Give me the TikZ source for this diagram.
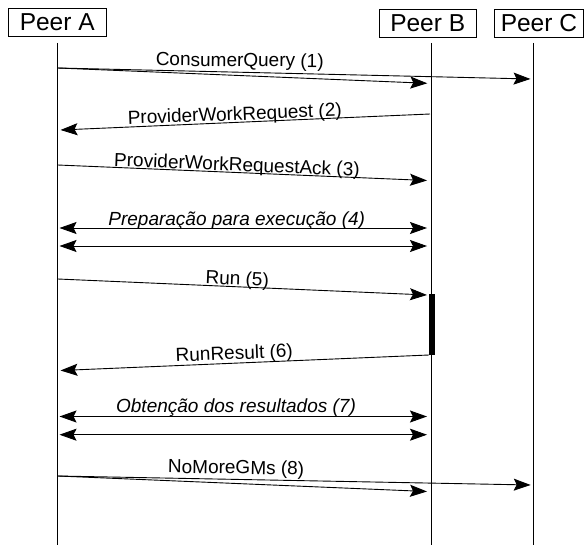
\documentclass[tikz,border=0pt]{standalone}
\usepackage{fontspec}
\setmainfont{Liberation Sans}
\usetikzlibrary{arrows.meta}
\begin{document}
\begin{tikzpicture}[x=1pt,y=-1pt,
  peer/.style={draw, line width=1pt, font=\fontsize{24.5}{28}\selectfont,
    minimum height=28pt, inner sep=0pt},
  life/.style={line width=1.1pt},
  tip/.tip={Stealth[length=17pt,width=12pt,inset=3pt]},
  msg/.style={line width=0.9pt, -tip},
  both/.style={line width=0.9pt, tip-tip},
  lbl/.style={font=\fontsize{19}{22}\selectfont, anchor=base, inner sep=0pt},
  ilbl/.style={lbl, font=\fontsize{19}{22}\selectfont\itshape},
  actbar/.style={fill=black, inner sep=0pt, minimum width=6pt}]
\useasboundingbox (0,0) rectangle (585,545);

% participants
\node[peer, minimum width=97.7pt] (pa) at (57.2,22.2) {Peer A};
\node[peer, minimum width=96.7pt] (pb) at (427.7,23.3) {Peer B};
\node[peer, minimum width=89pt]   (pc) at (538.9,23.3) {Peer C};

% lifelines
\coordinate (la0) at (57.7,43);  \coordinate (la1) at (57.7,545);
\coordinate (lb0) at (431.5,43); \coordinate (lb1) at (431.5,545);
\coordinate (lc0) at (533.5,43); \coordinate (lc1) at (533.5,545);
\draw[life] (la0) -- (la1);
\draw[life] (lb0) -- (lb1);
\draw[life] (lc0) -- (lc1);

% execution on Peer B
\node[actbar, minimum height=61pt] (exec) at (432.3,324.6) {};

% (1) ConsumerQuery
\coordinate (m1a) at (57.7,68);
\coordinate (m1b) at (427.3,83.3);
\coordinate (m1c) at (530.5,79);
\draw[msg] (m1a) -- (m1b);
\draw[msg] (m1a) -- (m1c);
\node[lbl, rotate=-0.5] (t1) at (239.7,66.5) {ConsumerQuery (1)};

% (2) ProviderWorkRequest
\coordinate (m2b) at (430,114);
\coordinate (m2a) at (60.5,130);
\draw[msg] (m2b) -- (m2a);
\node[lbl, rotate=2.2] (t2) at (235,120.3) {ProviderWorkRequest (2)};

% (3) ProviderWorkRequestAck
\coordinate (m3a) at (57.7,165);
\coordinate (m3b) at (427,180.5);
\draw[msg] (m3a) -- (m3b);
\node[lbl, rotate=-2.3] (t3) at (236.7,171) {ProviderWorkRequestAck (3)};

% (4) preparation exchange
\coordinate (m4a) at (59.5,228);   \coordinate (m4b) at (427,228);
\coordinate (m4c) at (59.5,246);   \coordinate (m4d) at (427,246);
\draw[both] (m4a) -- (m4b);
\draw[both] (m4c) -- (m4d);
\node[ilbl] (t4) at (236.7,225) {Preparação para execução (4)};

% (5) Run
\coordinate (m5a) at (57.7,279);
\coordinate (m5b) at (427,295);
\draw[msg] (m5a) -- (m5b);
\node[lbl, rotate=-2.4] (t5) at (237,285) {Run (5)};

% (6) RunResult
\coordinate (m6b) at (429,355);
\coordinate (m6a) at (60.5,370.5);
\draw[msg] (m6b) -- (m6a);
\node[lbl, rotate=2.3] (t6) at (234.5,359.5) {RunResult (6)};

% (7) fetching results
\coordinate (m7a) at (59.5,416.5); \coordinate (m7b) at (427,416.5);
\coordinate (m7c) at (59.5,434.7); \coordinate (m7d) at (427,434.7);
\draw[both] (m7a) -- (m7b);
\draw[both] (m7c) -- (m7d);
\node[ilbl] (t7) at (236,412.3) {Obtenção dos resultados (7)};

% (8) NoMoreGMs
\coordinate (m8a) at (57.7,476);
\coordinate (m8b) at (427,491.5);
\coordinate (m8c) at (530.7,485);
\draw[msg] (m8a) -- (m8b);
\draw[msg] (m8a) -- (m8c);
\node[lbl, rotate=-1] (t8) at (236,474) {NoMoreGMs (8)};
\end{tikzpicture}
\end{document}
